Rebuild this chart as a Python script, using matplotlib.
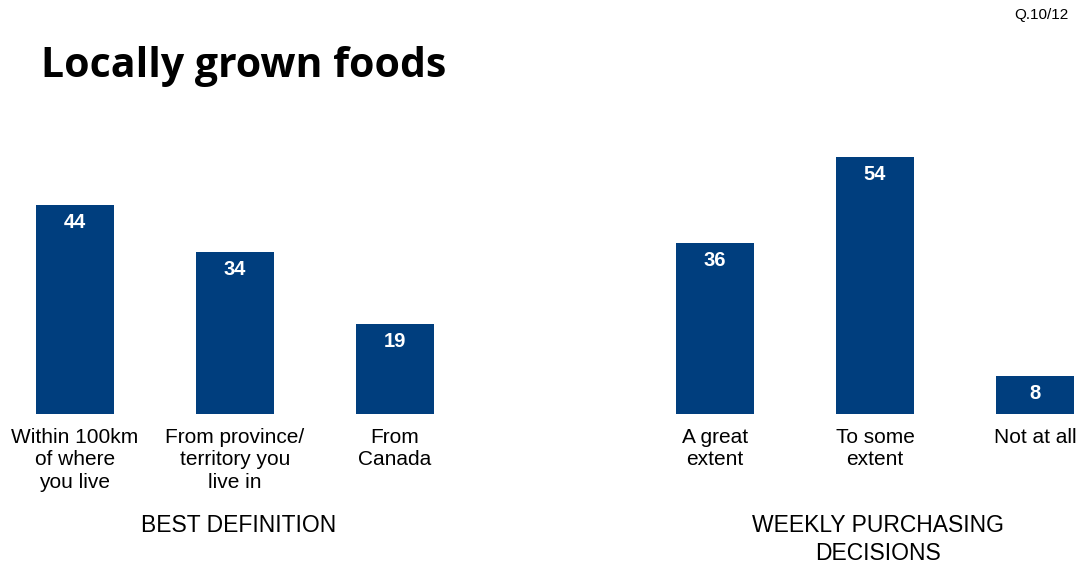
import matplotlib.pyplot as plt

# data
left_labels = ["Within 100km\nof where\nyou live", "From province/\nterritory you\nlive in", "From\nCanada"]
left_values = [44, 34, 19]
right_labels = ["A great\nextent", "To some\nextent", "Not at all"]
right_values = [36, 54, 8]
group_titles = ["BEST DEFINITION", "WEEKLY PURCHASING\nDECISIONS"]

bar_color = "#003E7E"
font = "Liberation Sans"

fig = plt.figure(figsize=(10.76, 5.63), dpi=100)
ax = fig.add_axes([0.01022, 0.2647, 0.98885, 0.5073])

left_pos = [0, 1, 2]
right_pos = [4, 5, 6]
positions = left_pos + right_pos
values = left_values + right_values
labels = left_labels + right_labels

bars = ax.bar(positions, values, width=0.49, color=bar_color)
for x, v in zip(positions, values):
    ax.text(x, v - 3.7, str(v), ha="center", va="center", color="white",
            fontsize=14.5, fontweight="bold", family=font)
for x, lab in zip(positions, labels):
    ax.text(x, -2.9, lab, ha="center", va="top", fontsize=15,
            family=font, linespacing=1.24)

ax.text(1.02, -21.0, group_titles[0], ha="center", va="top", fontsize=16.5, family=font)
ax.text(5.02, -21.0, group_titles[1], ha="center", va="top", fontsize=16.5,
        family=font, linespacing=1.27)

ax.set_xlim(-0.4, 6.25)
ax.set_ylim(0, 60)
ax.axis("off")

fig.text(0.038, 0.882, "Locally grown foods", fontsize=29.5, fontweight="bold",
         family="Open Sans", va="center", ha="left")
fig.text(0.993, 0.973, "Q.10/12", fontsize=11, family=font, ha="right", va="center")

fig.savefig("out.png", dpi=100)
